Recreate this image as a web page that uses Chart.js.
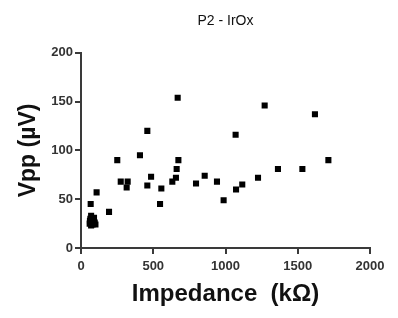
<!DOCTYPE html>
<html>
<head>
<meta charset="utf-8">
<script src="https://cdn.jsdelivr.net/npm/chart.js@4"></script>
<style>
html,body{margin:0;padding:0;background:#fff;}
#wrap{width:398px;height:318px;position:relative;}
</style>
</head>
<body>
<div id="wrap"><canvas id="c" width="398" height="318"></canvas></div>
<script>
const impedance = [60, 65, 70, 75, 80, 85, 90, 95, 100, 70, 62, 88, 67, 108, 194, 251, 275, 316, 323, 408, 459, 459, 485, 547, 556, 632, 657, 662, 669, 674, 796, 856, 941, 987, 1070, 1073, 1116, 1225, 1271, 1363, 1532, 1619, 1712];
const vpp = [25, 30, 33, 27, 24, 28, 31, 26, 24, 23, 28, 25, 45, 57, 37, 90, 68, 62, 68, 95, 120, 64, 73, 45, 61, 68, 72, 81, 154, 90, 66, 74, 68, 49, 116, 60, 65, 72, 146, 81, 81, 137, 90];
const xTicks = [0, 500, 1000, 1500, 2000];
const yTicks = [0, 50, 100, 150, 200];

const points = impedance.map((x, i) => ({x: x, y: vpp[i]}));
const axisColor = '#3a3a3a';
const tickFont = {family: 'Liberation Sans, Arial, sans-serif', size: 13, weight: 'bold'};

new Chart(document.getElementById('c'), {
  type: 'scatter',
  data: {
    datasets: [{
      label: 'P2 - IrOx',
      data: points,
      pointStyle: 'rect',
      radius: 4.3,
      backgroundColor: '#000',
      borderColor: '#000',
      borderWidth: 0
    }]
  },
  options: {
    responsive: false,
    animation: false,
    layout: {padding: {left: 0, right: 28, top: 0, bottom: 0}},
    plugins: {
      legend: {display: false},
      tooltip: {enabled: false},
      title: {
        display: true,
        text: 'P2 - IrOx',
        fullSize: false,
        color: '#111',
        font: {family: 'Liberation Sans, Arial, sans-serif', size: 14, weight: 'normal', lineHeight: 1.2},
        padding: {top: 13, bottom: 23}
      }
    },
    scales: {
      x: {
        type: 'linear',
        min: 0, max: 2000,
        afterFit: s => { s.height = 70; },
        afterBuildTicks: s => { s.ticks = xTicks.map(v => ({value: v})); },
        ticks: {color: '#333', font: tickFont, padding: 5, maxRotation: 0, autoSkip: false, callback: v => String(v)},
        grid: {display: true, drawOnChartArea: false, drawTicks: true, tickLength: 6, color: axisColor, lineWidth: 2},
        border: {display: true, color: axisColor, width: 2},
        title: {
          display: true,
          text: 'Impedance  (kΩ)',
          color: '#111',
          font: {family: 'Liberation Sans, Arial, sans-serif', size: 24, weight: 'bold', lineHeight: 1.2},
          padding: {top: 0, bottom: 9}
        }
      },
      y: {
        type: 'linear',
        min: 0, max: 200,
        afterFit: s => { s.width = 81; },
        afterBuildTicks: s => { s.ticks = yTicks.map(v => ({value: v})); },
        ticks: {color: '#333', font: tickFont, padding: 2, callback: v => String(v)},
        grid: {display: true, drawOnChartArea: false, drawTicks: true, tickLength: 6, color: axisColor, lineWidth: 2},
        border: {display: true, color: axisColor, width: 2},
        title: {
          display: true,
          text: 'Vpp (µV)',
          color: '#111',
          font: {family: 'Liberation Sans, Arial, sans-serif', size: 23, weight: 'bold', lineHeight: 1.2},
          padding: {top: 15, bottom: 0}
        }
      }
    }
  }
});
</script>
</body>
</html>
